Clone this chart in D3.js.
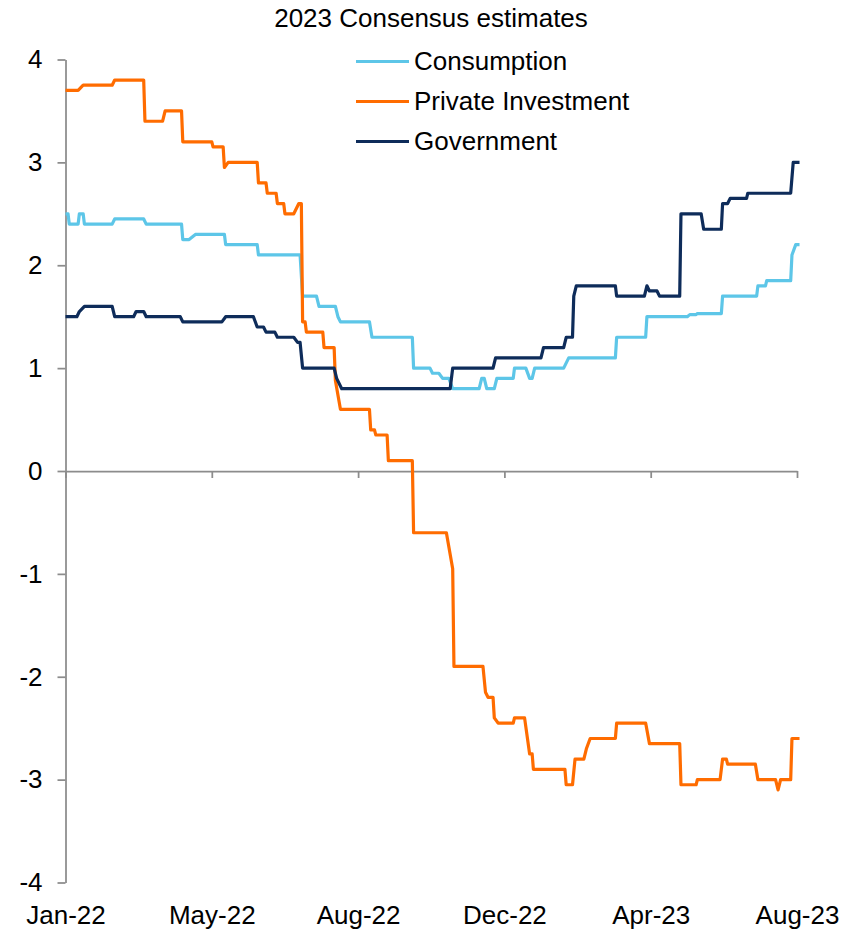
<!DOCTYPE html>
<html>
<head>
<meta charset="utf-8">
<script src="https://cdn.jsdelivr.net/npm/d3@7"></script>
<style>
  html, body { margin: 0; padding: 0; background: #fff; }
  svg { display: block; font-family: "Liberation Sans", Arial, sans-serif; }
</style>
</head>
<body>
<svg id="chart" width="860" height="930"></svg>
<script>
// ---------------- DATA ----------------
const title = "2023 Consensus estimates";
const seriesNames = ["Consumption", "Private Investment", "Government"];
const seriesColors = ["#5DC6E8", "#FF6C00", "#0E2C5A"];

const yTicks = [-4, -3, -2, -1, 0, 1, 2, 3, 4];
const xDomain = ["2022-01-05", "2023-08-08"];
const xTickDates = ["2022-01-05", "2022-05-01", "2022-08-25", "2022-12-19", "2023-04-14", "2023-08-08"];

const consumption = [
  ["2022-01-05",2.5],["2022-01-07",2.5],["2022-01-08",2.4],["2022-01-15",2.4],["2022-01-16",2.5],["2022-01-19",2.5],
  ["2022-01-20",2.4],["2022-02-11",2.4],["2022-02-13",2.45],["2022-03-08",2.45],["2022-03-10",2.4],["2022-04-07",2.4],
  ["2022-04-08",2.25],["2022-04-13",2.25],["2022-04-18",2.3],["2022-05-11",2.3],["2022-05-12",2.2],["2022-06-06",2.2],
  ["2022-06-07",2.1],["2022-07-10",2.1],["2022-07-12",1.7],["2022-07-23",1.7],["2022-07-25",1.6],["2022-08-07",1.6],
  ["2022-08-09",1.5],["2022-08-11",1.45],["2022-09-03",1.45],["2022-09-05",1.3],["2022-10-07",1.3],["2022-10-08",1.0],
  ["2022-10-21",1.0],["2022-10-23",0.95],["2022-10-28",0.95],["2022-10-31",0.9],["2022-11-05",0.9],["2022-11-08",0.8],
  ["2022-11-29",0.8],["2022-12-01",0.9],["2022-12-03",0.9],["2022-12-05",0.8],["2022-12-11",0.8],["2022-12-13",0.9],
  ["2022-12-26",0.9],["2022-12-27",1.0],["2023-01-05",1.0],["2023-01-08",0.9],["2023-01-10",0.9],["2023-01-12",1.0],
  ["2023-02-04",1.0],["2023-02-08",1.1],["2023-03-17",1.1],["2023-03-18",1.3],["2023-04-10",1.3],["2023-04-11",1.5],
  ["2023-05-13",1.5],["2023-05-15",1.52],["2023-05-20",1.52],["2023-05-21",1.53],["2023-06-09",1.53],["2023-06-10",1.7],
  ["2023-07-07",1.7],["2023-07-08",1.8],["2023-07-14",1.8],["2023-07-15",1.85],["2023-08-03",1.85],["2023-08-04",2.1],
  ["2023-08-07",2.2],["2023-08-10",2.2]
];

const privateInvestment = [
  ["2022-01-05",3.7],["2022-01-15",3.7],["2022-01-19",3.75],["2022-02-11",3.75],["2022-02-13",3.8],["2022-03-08",3.8],
  ["2022-03-09",3.4],["2022-03-23",3.4],["2022-03-25",3.5],["2022-04-07",3.5],["2022-04-08",3.2],["2022-05-01",3.2],
  ["2022-05-02",3.15],["2022-05-10",3.15],["2022-05-11",2.95],["2022-05-14",3.0],["2022-06-06",3.0],["2022-06-07",2.8],
  ["2022-06-13",2.8],["2022-06-14",2.7],["2022-06-21",2.7],["2022-06-22",2.6],["2022-06-27",2.6],["2022-06-28",2.5],
  ["2022-07-05",2.5],["2022-07-09",2.6],["2022-07-11",2.6],["2022-07-12",1.45],["2022-07-14",1.45],["2022-07-15",1.35],
  ["2022-07-28",1.35],["2022-07-29",1.2],["2022-08-06",1.2],["2022-08-07",0.88],["2022-08-11",0.6],["2022-09-03",0.6],
  ["2022-09-04",0.4],["2022-09-07",0.4],["2022-09-08",0.35],["2022-09-17",0.35],["2022-09-18",0.1],["2022-10-07",0.1],
  ["2022-10-08",-0.6],["2022-11-03",-0.6],["2022-11-08",-0.95],["2022-11-09",-1.9],["2022-12-02",-1.9],["2022-12-04",-2.15],
  ["2022-12-06",-2.2],["2022-12-10",-2.2],["2022-12-11",-2.4],["2022-12-14",-2.45],["2022-12-26",-2.45],["2022-12-27",-2.4],
  ["2023-01-04",-2.4],["2023-01-08",-2.75],["2023-01-10",-2.75],["2023-01-11",-2.9],["2023-02-05",-2.9],["2023-02-06",-3.05],
  ["2023-02-11",-3.05],["2023-02-13",-2.8],["2023-02-20",-2.8],["2023-02-22",-2.7],["2023-02-25",-2.6],["2023-03-17",-2.6],
  ["2023-03-18",-2.45],["2023-04-10",-2.45],["2023-04-13",-2.65],["2023-05-07",-2.65],["2023-05-08",-3.05],["2023-05-20",-3.05],
  ["2023-05-21",-3.0],["2023-06-08",-3.0],["2023-06-10",-2.8],["2023-06-13",-2.8],["2023-06-14",-2.85],["2023-07-06",-2.85],
  ["2023-07-08",-3.0],["2023-07-22",-3.0],["2023-07-24",-3.1],["2023-07-26",-3.0],["2023-08-03",-3.0],["2023-08-04",-2.6],
  ["2023-08-10",-2.6]
];

const government = [
  ["2022-01-05",1.5],["2022-01-14",1.5],["2022-01-16",1.55],["2022-01-20",1.6],["2022-02-11",1.6],["2022-02-13",1.5],
  ["2022-02-28",1.5],["2022-03-02",1.55],["2022-03-08",1.55],["2022-03-10",1.5],["2022-04-06",1.5],["2022-04-08",1.45],
  ["2022-05-09",1.45],["2022-05-12",1.5],["2022-06-03",1.5],["2022-06-06",1.4],["2022-06-11",1.4],["2022-06-13",1.35],
  ["2022-06-20",1.35],["2022-06-22",1.3],["2022-07-05",1.3],["2022-07-08",1.25],["2022-07-10",1.25],["2022-07-12",1.0],
  ["2022-08-06",1.0],["2022-08-08",0.9],["2022-08-12",0.8],["2022-11-06",0.8],["2022-11-08",1.0],["2022-12-10",1.0],
  ["2022-12-12",1.1],["2023-01-17",1.1],["2023-01-19",1.2],["2023-02-04",1.2],["2023-02-06",1.3],["2023-02-11",1.3],
  ["2023-02-12",1.7],["2023-02-14",1.8],["2023-03-17",1.8],["2023-03-18",1.7],["2023-04-09",1.7],["2023-04-11",1.8],
  ["2023-04-13",1.75],["2023-04-19",1.75],["2023-04-21",1.7],["2023-05-07",1.7],["2023-05-08",2.5],["2023-05-24",2.5],
  ["2023-05-26",2.35],["2023-06-09",2.35],["2023-06-10",2.6],["2023-06-14",2.6],["2023-06-16",2.65],["2023-06-29",2.65],
  ["2023-06-30",2.7],["2023-08-03",2.7],["2023-08-05",3.0],["2023-08-10",3.0]
];

// ---------------- CHART ----------------
const parse = d3.timeParse("%Y-%m-%d");
const svg = d3.select("#chart");
const FONT = 26;
const axisColor = "#8c8c8c";

const x = d3.scaleTime().domain(xDomain.map(parse)).range([65.5, 797]);
const y = d3.scaleLinear().domain([-4, 4]).range([882.5, 59.5]);

// title
svg.append("text")
  .attr("x", 431).attr("y", 27)
  .attr("text-anchor", "middle")
  .attr("font-size", FONT).attr("fill", "#000")
  .text(title);

// y axis
const yAxis = svg.append("g")
  .attr("transform", "translate(65.5,0)")
  .call(d3.axisLeft(y).tickValues(yTicks).tickSize(8).tickSizeOuter(0).tickPadding(15).tickFormat(d => String(d)));
yAxis.select(".domain").attr("stroke", axisColor).attr("stroke-width", 1.75);
yAxis.selectAll(".tick line").attr("stroke", axisColor).attr("stroke-width", 1.75);
yAxis.selectAll(".tick text").attr("font-size", FONT).attr("fill", "#000")
  .attr("font-family", '"Liberation Sans", Arial, sans-serif');

// x axis line at zero with tick marks
const xTicksParsed = xTickDates.map(parse);
const xAxis = svg.append("g")
  .attr("transform", `translate(0,${y(0)})`)
  .call(d3.axisBottom(x).tickValues(xTicksParsed).tickSize(7).tickSizeOuter(0).tickFormat(""));
xAxis.select(".domain").attr("stroke", axisColor).attr("stroke-width", 1.75);
xAxis.selectAll(".tick line").attr("stroke", axisColor).attr("stroke-width", 1.75);

// x labels at bottom
const xLabels = svg.append("g")
  .attr("transform", "translate(0,903)")
  .call(d3.axisBottom(x).tickValues(xTicksParsed).tickSize(0).tickPadding(3).tickFormat(d3.timeFormat("%b-%y")));
xLabels.select(".domain").remove();
xLabels.selectAll(".tick text").attr("font-size", FONT).attr("fill", "#000")
  .attr("font-family", '"Liberation Sans", Arial, sans-serif');

// lines
const line = d3.line()
  .x(d => x(parse(d[0])))
  .y(d => y(d[1]))
  .curve(d3.curveLinear);

const allSeries = [consumption, privateInvestment, government];
allSeries.forEach((s, i) => {
  svg.append("path")
    .datum(s)
    .attr("fill", "none")
    .attr("stroke", seriesColors[i])
    .attr("stroke-width", 3.2)
    .attr("stroke-linejoin", "round")
    .attr("d", line);
});

// legend
const legend = svg.append("g");
seriesNames.forEach((name, i) => {
  const ly = 61.5 + i * 40;
  legend.append("line")
    .attr("x1", 356).attr("x2", 409)
    .attr("y1", ly).attr("y2", ly)
    .attr("stroke", seriesColors[i]).attr("stroke-width", 3.2);
  legend.append("text")
    .attr("x", 414).attr("y", ly + 8.5)
    .attr("font-size", FONT).attr("fill", "#000")
    .text(name);
});
</script>
</body>
</html>
